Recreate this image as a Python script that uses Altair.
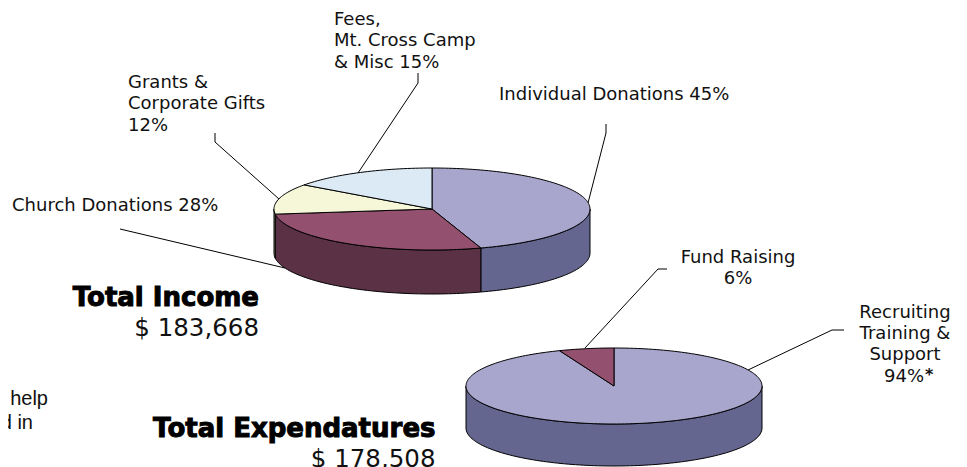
import math
import altair as alt
import pandas as pd

W, H = 951, 459

# Income pie
income_names = ["Individual Donations", "Church Donations", "Grants & Corporate Gifts", "Fees, Mt. Cross Camp & Misc"]
income_share = [45, 28, 12, 15]
income_top = ["#A9A6CE", "#93506F", "#F6F7D8", "#DCEAF6"]
income_side = ["#65668F", "#5A3145", "#8A8B70", "#7E8A95"]
income_geom = dict(cx=432, cy=209, rx=158, ry=41, depth=44)

# Expenditure pie
exp_names = ["Recruiting Training & Support", "Fund Raising"]
exp_share = [94, 6]
exp_top = ["#A9A6CE", "#93506F"]
exp_side = ["#65668F", "#5A3145"]
exp_geom = dict(cx=614, cy=386, rx=148, ry=38, depth=42)

# Leader lines
leaders = {
    "fees": [(418, 73), (418, 83), (358, 173)],
    "grants": [(215, 133), (215, 142), (279, 199)],
    "church": [(120, 229), (285, 268)],
    "indiv": [(606, 124), (606, 133), (588, 203)],
    "fund": [(667, 269), (658, 269), (585, 348)],
    "recruit": [(844, 330), (832, 330), (748, 370)],
}

FONT = "DejaVu Sans"
labels_left = [
    ("Fees,", 334, 25), ("Mt. Cross Camp", 334, 46), ("& Misc 15%", 334, 68),
    ("Grants &", 128, 88), ("Corporate Gifts", 128, 109), ("12%", 128, 131),
    ("Church Donations 28%", 12, 211),
    ("Individual Donations 45%", 499, 100),
    ("94%", 884, 382),
]
labels_center = [
    ("Fund Raising", 738, 263), ("6%", 738, 284),
    ("Recruiting", 905, 318), ("Training &", 905, 339), ("Support", 905, 360),
]
star = [("*", 925, 380)]
heads = [("Total Income", 259, 306), ("Total Expendatures", 435.5, 437)]
amounts = [("$ 183,668", 259, 335.5), ("$ 178,508", 435.5, 467)]
cutoff = [("e help", 48, 405), ("d in", 33, 429)]


def wedge_rows(names, shares, tops, sides, g, prefix):
    side_rows, top_rows = [], []
    start = 0.0
    total = sum(shares)
    for name, share, top, side in zip(names, shares, tops, sides):
        end = start + 360.0 * share / total
        n = max(4, int((end - start) / 1.5))
        arc = [start + (end - start) * i / n for i in range(n + 1)]
        pts = [(g["cx"] + g["rx"] * math.sin(math.radians(a)),
                g["cy"] - g["ry"] * math.cos(math.radians(a))) for a in arc]
        poly = [(g["cx"], g["cy"])] + pts + [(g["cx"], g["cy"])]
        for i, (x, y) in enumerate(poly):
            top_rows.append(dict(g=f"{prefix}-top-{name}", i=i, x=x, y=y, c=top))
        lo, hi = max(start, 90.0), min(end, 270.0)
        if hi > lo:
            m = max(2, int((hi - lo) / 1.5))
            vis = [lo + (hi - lo) * i / m for i in range(m + 1)]
            upper = [(g["cx"] + g["rx"] * math.sin(math.radians(a)),
                      g["cy"] - g["ry"] * math.cos(math.radians(a))) for a in vis]
            lower = [(x, y + g["depth"]) for x, y in reversed(upper)]
            ring = upper + lower + [upper[0]]
            for i, (x, y) in enumerate(ring):
                side_rows.append(dict(g=f"{prefix}-side-{name}", i=i, x=x, y=y, c=side))
        start = end
    return side_rows, top_rows


s1, t1 = wedge_rows(income_names, income_share, income_top, income_side, income_geom, "inc")
s2, t2 = wedge_rows(exp_names, exp_share, exp_top, exp_side, exp_geom, "exp")

xs = alt.X("x:Q", scale=alt.Scale(domain=[8, 8 + W], range=[0, W], nice=False, zero=False), axis=None)
ys = alt.Y("y:Q", scale=alt.Scale(domain=[8 + H, 8], range=[H, 0], nice=False, zero=False), axis=None)


def polys(rows):
    return alt.Chart(pd.DataFrame(rows)).mark_line(
        filled=True, stroke="#000000", strokeWidth=1, strokeJoin="round", clip=True, interpolate="linear"
    ).encode(x=xs, y=ys, detail="g:N", order="i:Q", fill=alt.Fill("c:N", scale=None))


lead_rows = [dict(g=k, i=i, x=p[0], y=p[1]) for k, v in leaders.items() for i, p in enumerate(v)]
lead = alt.Chart(pd.DataFrame(lead_rows)).mark_line(stroke="#000000", strokeWidth=1).encode(
    x=xs, y=ys, detail="g:N", order="i:Q")


def text_layer(rows, align, font, size, weight="normal", color="#111111", **kw):
    df = pd.DataFrame(rows, columns=["t", "x", "y"])
    return alt.Chart(df).mark_text(
        align=align, baseline="alphabetic", font=font, fontSize=size, fontWeight=weight, color=color, **kw
    ).encode(x=xs, y=ys, text="t:N")


chart = alt.layer(
    lead,
    polys(s1), polys(t1), polys(s2), polys(t2),
    text_layer(labels_left, "left", FONT, 18),
    text_layer(labels_center, "center", FONT, 18),
    text_layer(star, "left", FONT, 16, "bold"),
    text_layer(heads, "right", FONT, 26, "bold", "#000000", stroke="#000000", strokeWidth=1),
    text_layer(amounts, "right", FONT, 24.5),
    text_layer(cutoff, "right", "Liberation Sans", 20),
).properties(width=W, height=H, padding=0, background="#ffffff", autosize=alt.AutoSizeParams(type="none")
).configure_view(stroke=None)

chart.save("out.html", embed_options={"renderer": "svg", "actions": False})
